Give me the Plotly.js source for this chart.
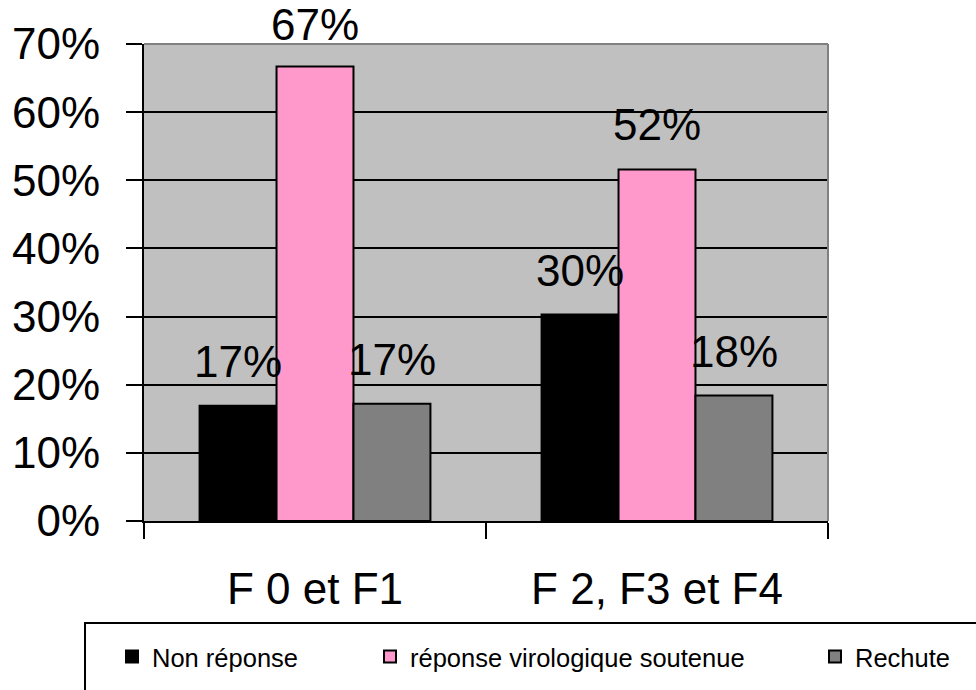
<!DOCTYPE html>
<html>
<head>
<meta charset="utf-8">
<script src="https://cdn.plot.ly/plotly-3.0.1.min.js"></script>
<style>
  html, body { margin: 0; padding: 0; background: #ffffff; }
  #chart { width: 976px; height: 690px; }
</style>
</head>
<body>
<div id="chart"></div>
<script>
// Fibrosis stage groups
const categories = ['F 0 et F1', 'F 2, F3 et F4'];

// Share of patients per outcome
const nonReponse = [0.169, 0.303];
const reponseVirologique = [0.667, 0.516];
const rechute = [0.172, 0.184];

const seriesNames = ['Non réponse', 'réponse virologique soutenue', 'Rechute'];
const seriesValues = [nonReponse, reponseVirologique, rechute];
const seriesColors = ['#000000', '#FF99CC', '#808080'];

const yTickVals = [0, 0.1, 0.2, 0.3, 0.4, 0.5, 0.6, 0.7];
const Y_MAX = 0.7;

const FONT = 'Liberation Sans, Arial, sans-serif';
const BARGAP = 0.325;

// each series gets its own legend box so entries can sit at their own spots
const legendKeys = ['legend', 'legend2', 'legend3'];
const legendX = [112, 370, 815];

const traces = seriesValues.map((vals, i) => ({
  type: 'bar',
  name: seriesNames[i],
  x: categories,
  y: vals,
  marker: { color: seriesColors[i], line: { color: '#000000', width: 2 } },
  legend: legendKeys[i],
  hoverinfo: 'skip'
}));

// Value labels placed above each bar of the grouped layout;
// labels for bars close to the top sit a little lower so they stay on the page
const barWidth = (1 - BARGAP) / seriesValues.length;
const annotations = [];
seriesValues.forEach((vals, i) => {
  vals.forEach((v, j) => {
    annotations.push({
      xref: 'x', yref: 'y',
      x: j + (i - (seriesValues.length - 1) / 2) * barWidth,
      y: v,
      text: Math.round(v * 100) + '%',
      showarrow: false,
      yanchor: 'bottom',
      yshift: v > Y_MAX - 0.05 ? 15 : 18,
      font: { family: FONT, size: 44, color: '#000000' }
    });
  });
});

const legendFont = { family: FONT, size: 25.5, color: '#000000' };
const legendBase = {
  orientation: 'h',
  xref: 'container', yref: 'container',
  xanchor: 'left', yanchor: 'middle',
  y: 1 - 657 / 690,
  bgcolor: 'rgba(0,0,0,0)',
  borderwidth: 0,
  font: legendFont
};

const layout = {
  width: 976,
  height: 690,
  margin: { l: 144, r: 148, t: 44, b: 169 },
  paper_bgcolor: '#ffffff',
  plot_bgcolor: '#C0C0C0',
  barmode: 'group',
  bargap: BARGAP,
  bargroupgap: 0,
  font: { family: FONT, color: '#000000' },
  xaxis: {
    type: 'category',
    showline: true, linecolor: '#000000', linewidth: 2,
    ticks: 'outside', tickson: 'boundaries', ticklen: 16, tickwidth: 2, tickcolor: '#000000',
    showgrid: false,
    tickfont: { family: FONT, size: 44, color: '#000000' },
    ticklabelstandoff: 28,
    fixedrange: true
  },
  yaxis: {
    range: [0, Y_MAX],
    tickvals: yTickVals,
    tickformat: '.0%',
    showline: true, linecolor: '#000000', linewidth: 2,
    ticks: 'outside', ticklen: 16, tickwidth: 2, tickcolor: '#000000',
    showgrid: true, gridcolor: '#000000', gridwidth: 2,
    zeroline: false,
    tickfont: { family: FONT, size: 44, color: '#000000' },
    ticklabelstandoff: 17,
    fixedrange: true
  },
  annotations: annotations,
  shapes: [
    // plot frame, top and right edges
    { type: 'line', xref: 'paper', yref: 'paper', x0: 0, x1: 1, y0: 1, y1: 1,
      line: { color: '#808080', width: 2 }, layer: 'above' },
    { type: 'line', xref: 'paper', yref: 'paper', x0: 1, x1: 1, y0: 0, y1: 1,
      line: { color: '#808080', width: 2 }, layer: 'above' },
    // legend frame
    { type: 'rect', xref: 'paper', yref: 'paper',
      x0: -59 / 684, x1: 1.4, y0: -102 / 477, y1: -0.5,
      line: { color: '#000000', width: 2 }, fillcolor: 'rgba(0,0,0,0)', layer: 'below' }
  ],
  showlegend: true
};

legendKeys.forEach((key, i) => {
  layout[key] = Object.assign({}, legendBase, { x: legendX[i] / 976 });
});

Plotly.newPlot('chart', traces, layout, { displayModeBar: false, staticPlot: true });
</script>
</body>
</html>
